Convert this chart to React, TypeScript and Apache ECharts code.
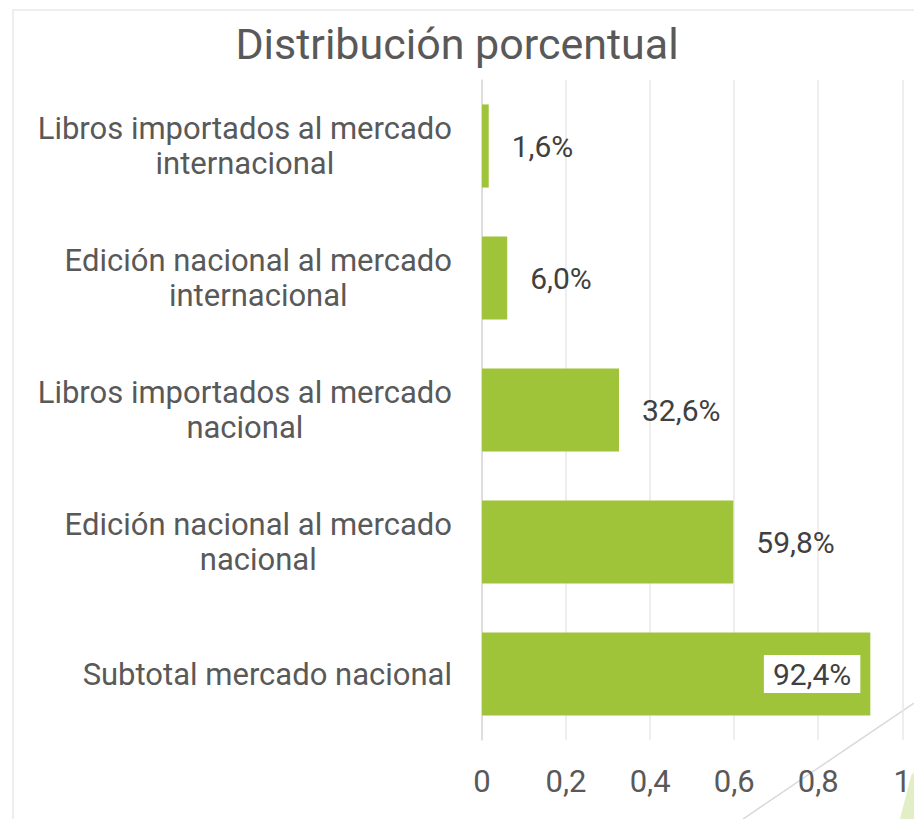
import React, { useEffect, useRef } from "react";
import * as echarts from "echarts";

const categories = [
  "Libros importados al mercado\ninternacional",
  "Edición nacional al mercado\ninternacional",
  "Libros importados al mercado\nnacional",
  "Edición nacional al mercado\nnacional",
  "Subtotal mercado nacional",
];
const values = [0.016, 0.06, 0.326, 0.598, 0.924];
const xTicks = [0, 0.2, 0.4, 0.6, 0.8, 1];
const titleText = "Distribución porcentual";

const FONT = "Roboto, 'Noto Sans', sans-serif";
const TEXT = "#595959";
const BAR = "#9fc43a";

const pct = (v: number) => (v * 100).toFixed(1).replace(".", ",") + "%";

export default function App() {
  const ref = useRef<HTMLDivElement>(null);
  useEffect(() => {
    document.body.style.margin = "0";
    const chart = echarts.init(ref.current!, undefined, { renderer: "svg" });
    const lastIdx = values.length - 1;
    chart.setOption({
      animation: false,
      backgroundColor: "#ffffff",
      title: {
        text: titleText,
        left: "center",
        top: 17,
        textStyle: { fontFamily: FONT, fontSize: 43, fontWeight: "normal", color: TEXT },
      },
      grid: { left: 482, right: 9, top: 80, bottom: 79, containLabel: false },
      xAxis: {
        type: "value",
        min: xTicks[0],
        max: xTicks[xTicks.length - 1],
        interval: 0.2,
        axisLine: { show: false },
        axisTick: { show: false },
        splitLine: { lineStyle: { color: "#e8e8e8", width: 1.5 } },
        axisLabel: {
          margin: 26,
          fontFamily: FONT,
          fontSize: 31,
          color: TEXT,
          formatter: (v: number) => String(Number(v.toFixed(1))).replace(".", ","),
        },
      },
      yAxis: {
        type: "category",
        data: categories,
        inverse: true,
        axisLine: { show: true, lineStyle: { color: "#d9d9d9", width: 1.5 } },
        axisTick: { show: false },
        axisLabel: {
          margin: 30,
          align: "right",
          formatter: (v: string) => v.split("\n").map((l) => `{c|${l}}`).join("\n"),
          rich: {
            c: { align: "center", fontFamily: FONT, fontSize: 31, color: TEXT, lineHeight: 35 },
          },
        },
      },
      series: [
        {
          type: "bar",
          barWidth: "63%",
          itemStyle: { color: BAR },
          data: values.map((v, i) => ({
            value: v,
            label:
              i === lastIdx
                ? {
                    show: true,
                    position: "insideRight",
                    distance: 10,
                    backgroundColor: "#ffffff",
                    padding: [5, 9, 3, 9],
                  }
                : { show: true, position: "right", distance: 23 },
          })),
          label: {
            fontFamily: FONT,
            fontSize: 30,
            color: "#404040",
            formatter: (p: any) => pct(p.value),
          },
        },
      ],
      graphic: [
        {
          type: "rect",
          shape: { x: 13, y: 10, width: 1000, height: 1000 },
          style: { fill: "none", stroke: "#eeeeee", lineWidth: 2 },
          silent: true,
        },
        {
          type: "line",
          shape: { x1: 743, y1: 819, x2: 914, y2: 703 },
          style: { stroke: "#d9d9d9", lineWidth: 1.5 },
          silent: true,
        },
        {
          type: "polygon",
          shape: { points: [[900, 819], [911, 776], [914, 772], [914, 819]] },
          style: { fill: "#e2eec6" },
          silent: true,
        },
      ],
    });
    return () => chart.dispose();
  }, []);
  return <div ref={ref} style={{ width: 914, height: 819 }} />;
}
